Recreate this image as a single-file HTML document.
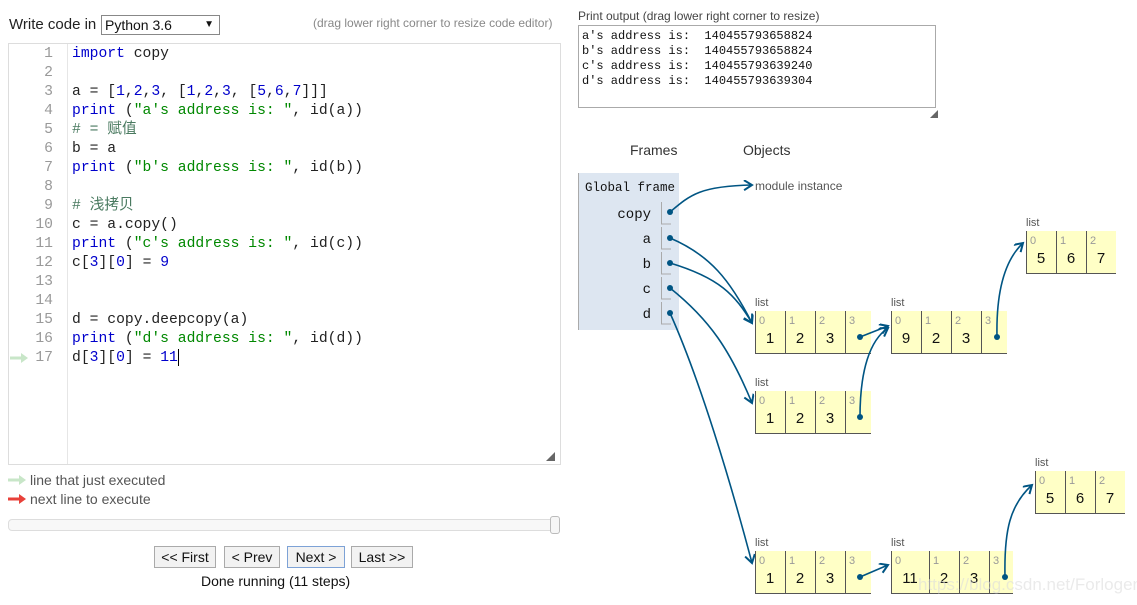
<!DOCTYPE html>
<html><head><meta charset="utf-8"><style>
body{margin:0;width:1137px;height:605px;background:#fff;position:relative;overflow:hidden;font-family:"Liberation Sans","Noto Sans CJK SC",sans-serif;}
.a{position:absolute;white-space:pre;}
.code{font-family:"Liberation Mono","Noto Sans CJK SC",monospace;font-size:14.7px;line-height:19px;height:19px;}
.ln{color:#999;text-align:right;width:46px;left:7px;font-family:"Liberation Mono",monospace;font-size:14.7px;line-height:19px;}
.k{color:#00c}.s{color:#080}.n{color:#00c}.c{color:#4a7a60}.d{color:#222}
.btn{position:absolute;top:546px;height:20px;border:1px solid #aaa;background:#f2f2f2;font-size:14px;line-height:20px;text-align:center;color:#111}
</style></head><body>
<div class="a" style="left:9px;top:16px;font-size:15px;color:#222">Write code in</div>
<div class="a" style="left:101px;top:15px;width:114px;height:18px;border:1px solid #888;font-size:14px;line-height:18px;padding-left:3px;color:#111">Python 3.6<span style="position:absolute;right:5px;font-size:10px">▼</span></div>
<div class="a" style="left:313px;top:16px;font-size:12px;color:#888">(drag lower right corner to resize code editor)</div>
<div class="a" style="left:8px;top:43px;width:551px;height:420px;border:1px solid #ddd;"></div>
<div class="a" style="left:67px;top:44px;width:1px;height:420px;background:#e6e6e6"></div>
<div class="a" style="left:546px;top:450px;font-size:9px;color:#666">◢</div>
<div id="code"></div>
<script>
var L=['<span class="k">import</span> copy','','a = [<span class="n">1</span>,<span class="n">2</span>,<span class="n">3</span>, [<span class="n">1</span>,<span class="n">2</span>,<span class="n">3</span>, [<span class="n">5</span>,<span class="n">6</span>,<span class="n">7</span>]]]',
'<span class="k">print</span> (<span class="s">"a\'s address is: "</span>, id(a))','<span class="c"># = 赋值</span>','b = a','<span class="k">print</span> (<span class="s">"b\'s address is: "</span>, id(b))','',
'<span class="c"># 浅拷贝</span>','c = a.copy()','<span class="k">print</span> (<span class="s">"c\'s address is: "</span>, id(c))','c[<span class="n">3</span>][<span class="n">0</span>] = <span class="n">9</span>','','',
'd = copy.deepcopy(a)','<span class="k">print</span> (<span class="s">"d\'s address is: "</span>, id(d))','d[<span class="n">3</span>][<span class="n">0</span>] = <span class="n">11</span>'];
var h='';for(var i=0;i<L.length;i++){var y=45+i*19;h+='<div class="a ln" style="top:'+y+'px">'+(i+1)+'</div><div class="a code d" style="left:72px;top:'+y+'px">'+L[i]+'</div>';}
document.getElementById('code').innerHTML=h;
</script>
<div class="a" style="left:178px;top:349px;width:1px;height:17px;background:#000"></div>
<svg class="a" style="left:10px;top:352px" width="20" height="12"><path d="M0 6H12" stroke="#c8e6c8" stroke-width="3"/><path d="M11 1L18 6L11 11Z" fill="#c8e6c8"/></svg>
<svg class="a" style="left:8px;top:474px" width="20" height="12"><path d="M0 6H12" stroke="#c8e6c8" stroke-width="3"/><path d="M11 1L18 6L11 11Z" fill="#c8e6c8"/></svg>
<div class="a" style="left:30px;top:472px;font-size:14px;color:#555">line that just executed</div>
<svg class="a" style="left:8px;top:493px" width="20" height="12"><path d="M0 6H12" stroke="#e8413a" stroke-width="3"/><path d="M11 1L18 6L11 11Z" fill="#e8413a"/></svg>
<div class="a" style="left:30px;top:491px;font-size:14px;color:#555">next line to execute</div>
<div class="a" style="left:8px;top:519px;width:548px;height:10px;border:1px solid #ddd;border-radius:4px;background:#f8f8f8"></div>
<div class="a" style="left:550px;top:516px;width:8px;height:16px;border:1px solid #bbb;border-radius:3px;background:#f6f6f6"></div>
<div class="btn" style="left:154px;width:60px">&lt;&lt; First</div>
<div class="btn" style="left:224px;width:54px">&lt; Prev</div>
<div class="btn" style="left:287px;width:56px;border-color:#7da2d6">Next &gt;</div>
<div class="btn" style="left:351px;width:60px">Last &gt;&gt;</div>
<div class="a" style="left:201px;top:573px;font-size:14px;color:#111">Done running (11 steps)</div>

<div class="a" style="left:578px;top:9px;font-size:12px;color:#444">Print output (drag lower right corner to resize)</div>
<div class="a" style="left:578px;top:25px;width:356px;height:81px;border:1px solid #aaa;"></div>
<div class="a" style="left:582px;top:29px;font-family:'Liberation Mono',monospace;font-size:12px;line-height:15px;color:#111">a's address is:  140455793658824
b's address is:  140455793658824
c's address is:  140455793639240
d's address is:  140455793639304</div>
<div class="a" style="left:930px;top:109px;font-size:8px;color:#666">◢</div>
<div class="a" style="left:630px;top:142px;font-size:14px;color:#333">Frames</div>
<div class="a" style="left:743px;top:142px;font-size:14px;color:#333">Objects</div>

<svg class="a" style="left:0;top:0" width="1137" height="605" font-family="Liberation Sans, sans-serif">
<defs><marker id="m" markerWidth="12" markerHeight="12" refX="9" refY="5" orient="auto" markerUnits="userSpaceOnUse"><path d="M1 0L9 5L1 10" fill="none" stroke="#005583" stroke-width="2"/></marker></defs>
<rect x="578" y="173" width="101" height="157" fill="#dde6f1"/>
<line x1="578.5" y1="173" x2="578.5" y2="330" stroke="#aaa"/>
<text x="585" y="191" font-family="Liberation Mono,monospace" font-size="12.5" fill="#111">Global frame</text>
<g font-family="Liberation Mono,monospace" font-size="14" fill="#111" text-anchor="end">
<text x="651" y="218">copy</text><text x="651" y="243">a</text><text x="651" y="268">b</text><text x="651" y="293">c</text><text x="651" y="318">d</text></g>
<g stroke="#aaa" fill="none"><path d="M661.5 202V224H671"/><path d="M661.5 227V249H671"/><path d="M661.5 252V274H671"/><path d="M661.5 277V299H671"/><path d="M661.5 302V324H671"/></g>
<text x="755" y="190" font-size="12" fill="#555">module instance</text>
<g id="lists"></g>
<g fill="#005583"><circle cx="670" cy="212" r="3"/><circle cx="670" cy="238" r="3"/><circle cx="670" cy="263" r="3"/><circle cx="670" cy="288" r="3"/><circle cx="670" cy="313" r="3"/>
<circle cx="860" cy="337" r="3"/><circle cx="860" cy="417" r="3"/><circle cx="997" cy="337" r="3"/><circle cx="860" cy="577" r="3"/><circle cx="1005" cy="577" r="3"/></g>
<g stroke="#005583" stroke-width="1.6" fill="none" marker-end="url(#m)">
<path d="M670 212C690 195 700 186 752 185"/>
<path d="M670 238C710 255 730 280 752 323"/>
<path d="M670 263C720 278 735 295 752 323"/>
<path d="M670 288C710 320 730 350 752 403"/>
<path d="M670 313C700 380 730 480 752 563"/>
<path d="M860 337L888 326"/>
<path d="M860 417C860 370 870 340 888 328"/>
<path d="M997 337C996 290 1005 260 1023 243"/>
<path d="M860 577L888 565"/>
<path d="M1005 577C1004 530 1010 505 1032 485"/>
</g>
<text x="918" y="590" font-size="17" fill="#ddd" opacity="0.6">https://blog.csdn.net/Forlogen</text>
</svg>
<script>
function list(x,y,w,vals){var s='<text x="'+x+'" y="'+(y-5)+'" font-size="11" fill="#555">list</text>';var tw=w.reduce(function(a,b){return a+b},0);
s+='<rect x="'+x+'" y="'+y+'" width="'+tw+'" height="42" fill="#ffffc6"/>';var cx=x;
for(var i=0;i<w.length;i++){s+='<line x1="'+(cx+.5)+'" y1="'+y+'" x2="'+(cx+.5)+'" y2="'+(y+42)+'" stroke="#555"/>';
s+='<text x="'+(cx+4)+'" y="'+(y+13)+'" font-size="11" fill="#999">'+i+'</text>';
if(vals[i]!=='')s+='<text x="'+(cx+w[i]/2)+'" y="'+(y+32)+'" font-size="15" fill="#111" text-anchor="middle">'+vals[i]+'</text>';cx+=w[i];}
s+='<line x1="'+x+'" y1="'+(y+42.5)+'" x2="'+(x+tw)+'" y2="'+(y+42.5)+'" stroke="#555"/>';return s;}
document.getElementById('lists').innerHTML=
list(755,311,[30,30,30,26],['1','2','3',''])+list(891,311,[30,30,30,26],['9','2','3',''])+list(1026,231,[30,30,30],['5','6','7'])+
list(755,391,[30,30,30,26],['1','2','3',''])+list(755,551,[30,30,30,26],['1','2','3',''])+list(891,551,[38,30,30,24],['11','2','3',''])+list(1035,471,[30,30,30],['5','6','7']);
</script>
</body></html>
